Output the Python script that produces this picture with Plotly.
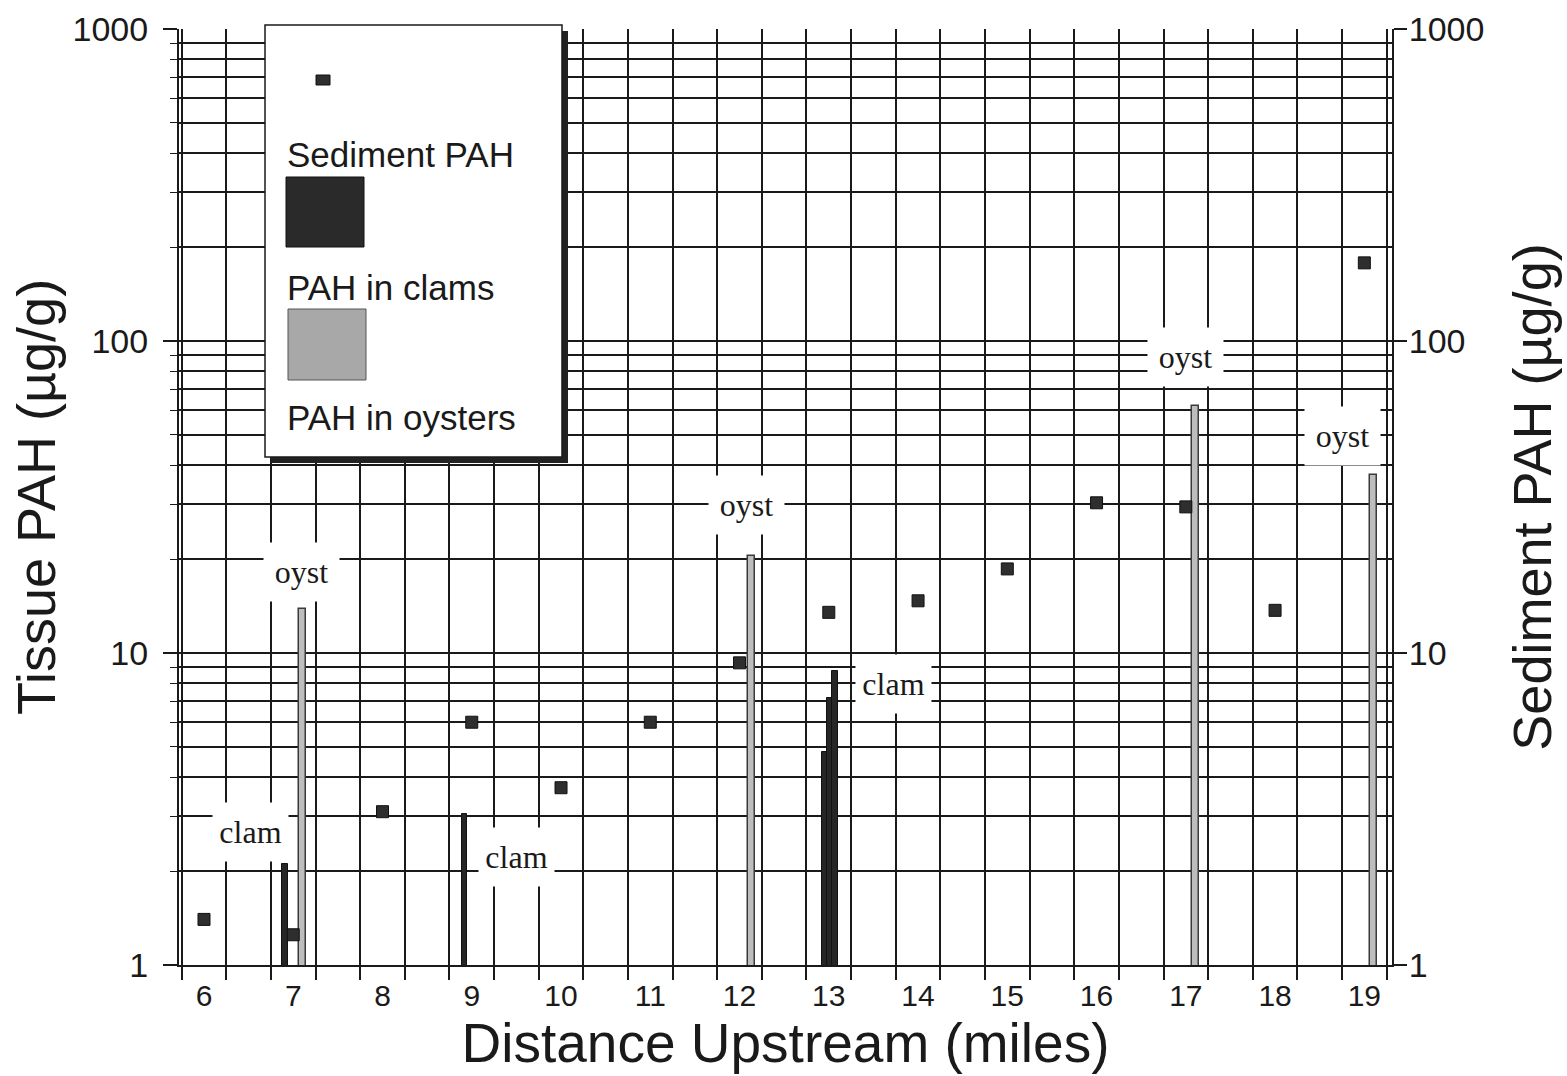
import math
import plotly.graph_objects as go

# ---------------- data ----------------
miles = [6, 7, 8, 9, 10, 11, 12, 13, 14, 15, 16, 17, 18, 19]
sediment_pah = [1.4, 1.25, 3.1, 6.0, 3.7, 6.0, 9.3, 13.5, 14.7, 18.6, 30.3, 29.4, 13.7, 178]

clam_miles = [6.91, 8.92, 12.95, 13.01, 13.07]
clam_pah = [2.1, 3.05, 4.8, 7.2, 8.75]

oyster_miles = [7.10, 12.13, 17.11, 19.10]
oyster_pah = [13.8, 20.5, 62.0, 37.2]

label_text = ["oyst", "oyst", "oyst", "oyst", "clam", "clam", "clam"]
label_miles = [7.09, 12.08, 17.0, 18.75, 6.52, 9.50, 13.72]
label_pah = [18.2, 29.8, 88.9, 49.6, 2.67, 2.22, 7.95]

x_tick_labels = [str(m) for m in miles]
decades = [1, 10, 100, 1000]
decade_labels = ["1", "10", "100", "1000"]

# ---------------- styling ----------------
INK = "#1a1a1a"
SANS = "Liberation Sans, Arial, sans-serif"
SERIF = "Liberation Serif, Times New Roman, serif"

minor_y = [k * 10 ** d for d in range(0, 3) for k in range(2, 10)]
minor_x = [5.75 + 0.5 * i for i in range(28)]

fig = go.Figure()

fig.add_trace(go.Bar(
    x=clam_miles, y=clam_pah, width=0.062,
    marker=dict(color="#262626", line=dict(color="#111111", width=1)),
    name="PAH in clams", showlegend=False,
))
fig.add_trace(go.Bar(
    x=oyster_miles, y=oyster_pah, width=0.078,
    marker=dict(color="#bdbdbd", line=dict(color="#3a3a3a", width=1.5)),
    name="PAH in oysters", showlegend=False,
))
fig.add_trace(go.Scatter(
    x=miles, y=sediment_pah, mode="markers", yaxis="y2",
    marker=dict(symbol="square", size=12, color="#2e2e2e",
                line=dict(color="#111111", width=1)),
    name="Sediment PAH", showlegend=False,
))

# labels with white boxes that hide the grid
for t, xm, yv in zip(label_text, label_miles, label_pah):
    fig.add_annotation(
        x=xm, y=math.log10(yv), xref="x", yref="y", text=t, showarrow=False,
        font=dict(family=SERIF, size=32, color=INK),
        bgcolor="white", width=75, height=58, borderpad=0,
    )

# ---------------- legend box (drawn by hand, like the original) ----------------
def px_x(p):
    return (p - 179) / 1213.0

def px_y(p):
    return (965 - p) / 936.0

shapes = []
shapes.append(dict(type="rect", xref="paper", yref="paper", layer="above",
                   x0=px_x(271), x1=px_x(568), y0=px_y(463), y1=px_y(31),
                   fillcolor="#222222", line=dict(width=0)))
shapes.append(dict(type="rect", xref="paper", yref="paper", layer="above",
                   x0=px_x(265), x1=px_x(562), y0=px_y(457), y1=px_y(25),
                   fillcolor="white", line=dict(color=INK, width=1.5)))
shapes.append(dict(type="rect", xref="paper", yref="paper", layer="above",
                   x0=px_x(316), x1=px_x(330), y0=px_y(85), y1=px_y(75),
                   fillcolor="#2e2e2e", line=dict(color="#111111", width=1)))
shapes.append(dict(type="rect", xref="paper", yref="paper", layer="above",
                   x0=px_x(286), x1=px_x(364), y0=px_y(247), y1=px_y(177),
                   fillcolor="#2a2a2a", line=dict(color="#111111", width=1)))
shapes.append(dict(type="rect", xref="paper", yref="paper", layer="above",
                   x0=px_x(288), x1=px_x(366), y0=px_y(380), y1=px_y(309),
                   fillcolor="#a8a8a8", line=dict(color="#555555", width=1)))

for txt, yy in [("Sediment PAH", 155), ("PAH in clams", 287), ("PAH in oysters", 418)]:
    fig.add_annotation(x=px_x(285), y=px_y(yy), xref="paper", yref="paper",
                       xanchor="left", yanchor="middle", showarrow=False,
                       text=txt, font=dict(family=SANS, size=35, color=INK))

fig.update_layout(
    width=1567, height=1076,
    margin=dict(l=179, r=175, t=29, b=111, autoexpand=False),
    paper_bgcolor="white", plot_bgcolor="white",
    barmode="overlay", bargap=0,
    showlegend=False,
    shapes=shapes,
    xaxis=dict(
        range=[5.72, 19.31], tickmode="array", tickvals=miles, ticktext=x_tick_labels,
        ticks="outside", ticklen=3, tickcolor="rgba(0,0,0,0)",
        tickfont=dict(family=SANS, size=30, color=INK),
        showgrid=False, zeroline=False,
        showline=True, linecolor=INK, linewidth=2,
        minor=dict(tickmode="array", tickvals=minor_x, ticks="outside", ticklen=13,
                   tickcolor=INK, tickwidth=1.5, showgrid=True, gridcolor=INK, gridwidth=1.5),
        title=dict(text="Distance Upstream (miles)", standoff=6,
                   font=dict(family=SANS, size=55, color=INK)),
    ),
    yaxis=dict(
        type="log", range=[0, 3], tickmode="array", tickvals=decades, ticktext=decade_labels,
        ticks="outside", ticklen=14, tickwidth=1.5, tickcolor=INK,
        tickfont=dict(family=SANS, size=34, color=INK), ticklabelstandoff=8,
        showgrid=True, gridcolor=INK, gridwidth=1.5, zeroline=False,
        showline=True, linecolor=INK, linewidth=2,
        minor=dict(tickmode="array", tickvals=minor_y, ticks="outside", ticklen=7,
                   tickcolor=INK, tickwidth=1.2, showgrid=True, gridcolor=INK, gridwidth=1.5),
        title=dict(text="Tissue PAH (µg/g)", standoff=0,
                   font=dict(family=SANS, size=54, color=INK)),
    ),
    yaxis2=dict(
        type="log", range=[0, 3], overlaying="y", side="right",
        tickmode="array", tickvals=decades, ticktext=decade_labels,
        ticks="outside", ticklen=13, tickwidth=1.5, tickcolor=INK,
        tickfont=dict(family=SANS, size=34, color=INK), ticklabelstandoff=-5,
        showgrid=False, zeroline=False,
        showline=True, linecolor=INK, linewidth=2,
        title=dict(text="Sediment PAH (µg/g)", standoff=30,
                   font=dict(family=SANS, size=54, color=INK)),
    ),
)

fig.write_html("out.html")
